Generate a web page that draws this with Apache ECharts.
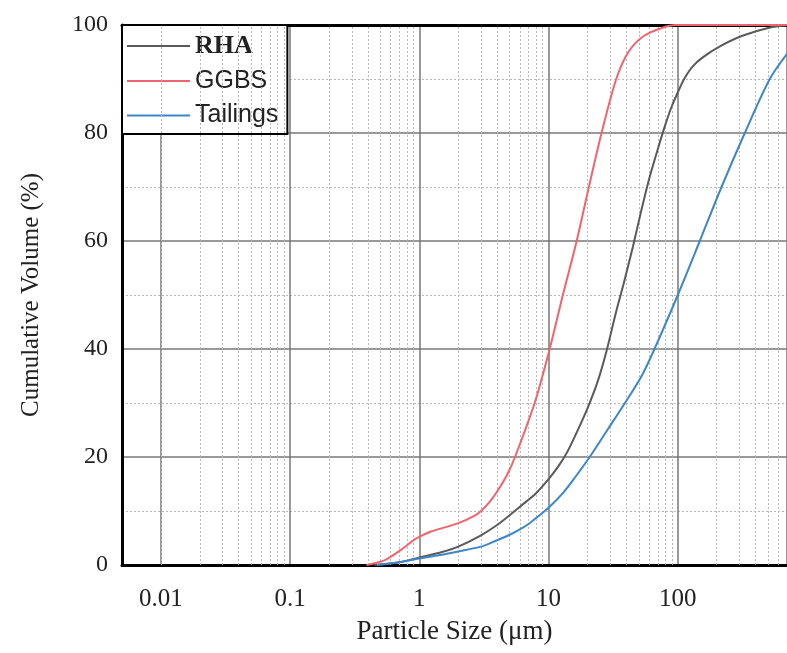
<!DOCTYPE html>
<html><head><meta charset="utf-8">
<script src="https://cdn.jsdelivr.net/npm/echarts@6/dist/echarts.min.js"></script>
<style>html,body{margin:0;padding:0;background:#fff}#c{width:787px;height:653px}</style>
</head><body><div id="c"></div>
<script>
const seriesNames = ['RHA', 'GGBS', 'Tailings'];
const seriesColors = ['#5a5a5a', '#f0646e', '#3d86c8'];

const rhaSize = [0.45, 0.7, 1, 1.5, 2, 3, 4, 5, 6, 8, 10, 12, 14, 17, 20, 24, 28, 33, 38, 45, 52, 60, 70, 80, 90, 100, 112, 130, 156, 210, 316, 509, 730];
const rhaVol  = [0, 0.5, 1.4, 2.4, 3.4, 5.5, 7.4, 9.2, 10.8, 13.3, 15.9, 18.4, 21.0, 25.2, 29, 34, 39.5, 46.5, 52, 59, 65.5, 71.5, 77, 81.5, 85, 87.5, 90, 92.3, 94, 96, 98, 99.5, 100];

const ggbsSize = [0.39, 0.54, 0.72, 0.92, 1, 1.23, 1.98, 2.66, 3, 3.5, 4, 4.8, 5.5, 7.8, 10.2, 12.9, 16.5, 20.5, 25.7, 33.4, 41.5, 54.8, 76, 96, 1000];
const ggbsVol  = [0, 0.9, 2.8, 4.75, 5.2, 6.2, 7.7, 9.1, 10, 11.7, 13.6, 16.8, 20, 30, 40, 50, 60, 70, 80, 90, 95, 98, 99.5, 100, 100];

const tailSize = [0.47, 0.7, 1, 1.5, 2, 3, 3.5, 5, 5.8, 7, 8, 10, 13, 16, 20.8, 28.5, 39, 52.5, 66, 100, 148, 218, 330, 515, 718];
const tailVol  = [0, 0.5, 1.2, 1.9, 2.5, 3.4, 4.0, 5.6, 6.4, 7.6, 8.7, 10.6, 13.4, 16.2, 20, 25, 30, 35, 40, 50, 60, 70, 80, 90, 95];

const xTickLabels = ['0.01', '0.1', '1', '10', '100'];
const yTickLabels = ['0', '20', '40', '60', '80', '100'];

const xMin = 0.005, xMax = 700;
const minorX = [];
[0.001, 0.01, 0.1, 1, 10, 100].forEach(function (d) {
  for (let k = 2; k <= 9; k++) {
    const v = +(k * d).toPrecision(3);
    if (v > xMin && v < xMax) minorX.push(v);
  }
});

function zip(a, b) { return a.map(function (v, i) { return [v, b[i]]; }); }
const seriesData = [zip(rhaSize, rhaVol), zip(ggbsSize, ggbsVol), zip(tailSize, tailVol)];

const chart = echarts.init(document.getElementById('c'), null, {renderer: 'canvas'});
const serif = '"Liberation Serif", "Times New Roman", serif';
const sans = '"Liberation Sans", Arial, sans-serif';

const series = seriesNames.map(function (n, i) {
  return {
    name: n, type: 'line', data: seriesData[i], showSymbol: false, symbol: 'none',
    smooth: 0.3, z: 5, clip: true,
    lineStyle: {color: seriesColors[i], width: 2},
    itemStyle: {color: seriesColors[i]},
    emphasis: {disabled: true}
  };
});
series.unshift({
  name: 'minor', type: 'line', data: [], z: 1, silent: true,
  markLine: {
    silent: true, symbol: 'none', animation: false,
    label: {show: false},
    lineStyle: {type: [2, 2], color: '#b8b8b8', width: 1},
    emphasis: {disabled: true},
    data: minorX.map(function (v) { return {xAxis: v}; })
  }
});

const xLabelFmt = function (v) {
  for (let i = 0; i < xTickLabels.length; i++) {
    if (Math.abs(Math.log10(v) - Math.log10(parseFloat(xTickLabels[i]))) < 1e-6) return xTickLabels[i];
  }
  return '';
};

chart.setOption({
  animation: false,
  backgroundColor: '#fff',
  grid: {left: 122, top: 25, right: 0, bottom: 88, show: false},
  legend: {
    data: seriesNames,
    orient: 'vertical', left: 122, top: 25,
    backgroundColor: '#fff', borderColor: '#000', borderWidth: 2,
    padding: [8, 9, 6, 5],
    itemWidth: 63, itemHeight: 2, itemGap: 9.5, icon: 'rect',
    formatter: function (n) { return n === 'RHA' ? '{r|RHA}' : '{s|' + n + '}'; },
    textStyle: {
      rich: {
        r: {fontFamily: serif, fontSize: 26, fontWeight: 'bold', color: '#222', lineHeight: 28},
        s: {fontFamily: sans, fontSize: 25, color: '#222', lineHeight: 28}
      }
    },
    selectedMode: false
  },
  xAxis: [{
    type: 'log', logBase: 10, min: xMin, max: xMax,
    name: 'Particle Size (μm)', nameLocation: 'middle', nameGap: 53,
    nameTextStyle: {fontFamily: serif, fontSize: 27, color: '#222'},
    axisLine: {show: true, lineStyle: {color: '#000', width: 3}},
    axisTick: {show: false},
    axisLabel: {fontFamily: serif, fontSize: 25, color: '#222', margin: 22, showMinLabel: false, showMaxLabel: false, formatter: xLabelFmt},
    splitLine: {show: true, lineStyle: {color: '#777', width: 1.5}}
  }, {
    type: 'log', logBase: 10, min: xMin, max: xMax, position: 'top',
    axisLine: {show: true, onZero: false, lineStyle: {color: '#000', width: 3}},
    axisTick: {show: false}, axisLabel: {show: false}, splitLine: {show: false}
  }],
  yAxis: {
    type: 'value', min: 0, max: 100, interval: 20,
    name: 'Cumulative Volume (%)', nameLocation: 'middle', nameGap: 78,
    nameTextStyle: {fontFamily: serif, fontSize: 25, color: '#222'},
    axisLine: {show: true, lineStyle: {color: '#000', width: 3}},
    axisTick: {show: false},
    axisLabel: {
      fontFamily: serif, fontSize: 24, color: '#222', margin: 14,
      formatter: function (v) { const s = String(v); return yTickLabels.indexOf(s) >= 0 ? s : ''; }
    },
    splitLine: {show: true, lineStyle: {color: '#777', width: 1.5}},
    minorTick: {show: false, splitNumber: 2},
    minorSplitLine: {show: true, lineStyle: {type: [2, 2], color: '#b8b8b8', width: 1}}
  },
  series: series
});
</script>
</body></html>
